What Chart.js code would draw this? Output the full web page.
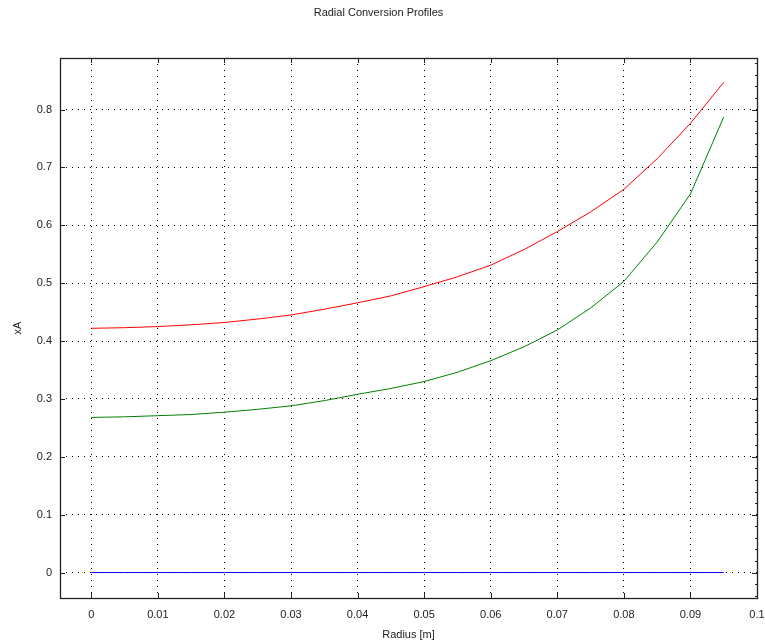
<!DOCTYPE html>
<html>
<head>
<meta charset="utf-8">
<script src="https://cdn.jsdelivr.net/npm/chart.js@4"></script>
<style>
  html, body { margin: 0; padding: 0; background: #fff; }
  #wrap { width: 765px; height: 644px; }
</style>
</head>
<body>
<div id="wrap"><canvas id="radial"></canvas></div>
<script>
// radius positions [m]
const radius = [0, 0.005, 0.01, 0.015, 0.02, 0.025, 0.03, 0.035, 0.04, 0.045,
                0.05, 0.055, 0.06, 0.065, 0.07, 0.075, 0.08, 0.085, 0.09, 0.095];
// conversion profiles
const redXA   = [0.422, 0.423, 0.425, 0.428, 0.432, 0.438, 0.445, 0.455, 0.466, 0.478,
                 0.494, 0.511, 0.531, 0.558, 0.589, 0.623, 0.662, 0.715, 0.776, 0.847];
const greenXA = [0.268, 0.269, 0.271, 0.273, 0.277, 0.282, 0.288, 0.297, 0.308, 0.318,
                 0.330, 0.346, 0.366, 0.390, 0.419, 0.457, 0.503, 0.571, 0.654, 0.787];
const blueXA  = [0, 0, 0, 0, 0, 0, 0, 0, 0, 0, 0, 0, 0, 0, 0, 0, 0, 0, 0, 0];

const FONT = "'Liberation Sans', Arial, sans-serif";

function pts(ys) {
  return radius.map((r, i) => ({ x: r, y: ys[i] }));
}

// box round the plot plus inward tick marks (octave style)
const frame = {
  id: 'frame',
  afterDatasetsDraw(chart) {
    const { ctx, chartArea: a, scales } = chart;
    ctx.save();
    ctx.strokeStyle = '#222';
    ctx.lineWidth = 1;
    ctx.beginPath();
    scales.x.ticks.forEach(t => {
      const px = Math.round(scales.x.getPixelForValue(t.value)) + 0.5;
      ctx.moveTo(px, a.bottom); ctx.lineTo(px, a.bottom - 5);
      ctx.moveTo(px, a.top); ctx.lineTo(px, a.top + 5);
    });
    scales.y.ticks.forEach(t => {
      const py = Math.round(scales.y.getPixelForValue(t.value)) + 0.5;
      ctx.moveTo(a.left, py); ctx.lineTo(a.left + 5, py);
      ctx.moveTo(a.right, py); ctx.lineTo(a.right - 5, py);
    });
    // small minor ticks on right side
    for (let v = -0.04; v < 0.89; v += 0.02) {
      const py = Math.round(scales.y.getPixelForValue(v)) + 0.5;
      ctx.moveTo(a.right, py); ctx.lineTo(a.right - 2, py);
    }
    ctx.stroke();
    ctx.lineWidth = 1.3;
    ctx.strokeRect(Math.round(a.left) + 0.5, Math.round(a.top) + 0.5,
                   Math.round(a.right - a.left), Math.round(a.bottom - a.top));
    ctx.restore();
  }
};

const fmt = v => String(Math.round(v * 100) / 100);

new Chart(document.getElementById('radial').getContext('2d'), {
  type: 'line',
  data: {
    datasets: [
      { data: pts(redXA), borderColor: '#ff0000', borderWidth: 1 },
      { data: pts(greenXA), borderColor: '#008000', borderWidth: 1 },
      { data: pts(blueXA), borderColor: '#0000ff', borderWidth: 1 }
    ]
  },
  options: {
    responsive: true,
    maintainAspectRatio: false,
    animation: false,
    parsing: false,
    elements: { point: { radius: 0 }, line: { tension: 0 } },
    layout: { padding: { left: 0, right: 8, top: 0, bottom: 0 } },
    plugins: {
      legend: { display: false },
      tooltip: { enabled: false },
      title: {
        display: true,
        text: 'Radial Conversion Profiles',
        color: '#222',
        font: { family: FONT, size: 11, weight: 'normal' },
        padding: { top: 6, bottom: 38.8 }
      }
    },
    scales: {
      x: {
        type: 'linear',
        min: -0.0047,
        max: 0.1,
        afterFit: s => { s.height = 46; s.paddingLeft = 0; s.paddingRight = 0; },
        ticks: {
          stepSize: 0.01,
          includeBounds: false,
          maxRotation: 0,
          autoSkip: false,
          padding: 10,
          color: '#222',
          font: { family: FONT, size: 11 },
          callback: fmt
        },
        grid: { color: '#000', lineWidth: 1, drawTicks: false },
        border: { display: false, dash: [1, 5] },
        title: {
          display: true,
          text: 'Radius [m]',
          color: '#222',
          font: { family: FONT, size: 11 },
          padding: { top: 0, bottom: 2 }
        }
      },
      y: {
        type: 'linear',
        min: -0.044,
        max: 0.889,
        afterFit: s => { s.width = 60; s.paddingTop = 0; s.paddingBottom = 0; },
        ticks: {
          stepSize: 0.1,
          includeBounds: false,
          padding: 8,
          color: '#222',
          font: { family: FONT, size: 11 },
          callback: v => String(Math.round(v * 10) / 10)
        },
        grid: { color: '#000', lineWidth: 1, drawTicks: false },
        border: { display: false, dash: [1, 5] },
        title: {
          display: true,
          text: 'xA',
          color: '#222',
          font: { family: FONT, size: 11 },
          padding: { top: 11, bottom: 0 }
        }
      }
    }
  },
  plugins: [frame]
});
</script>
</body>
</html>
